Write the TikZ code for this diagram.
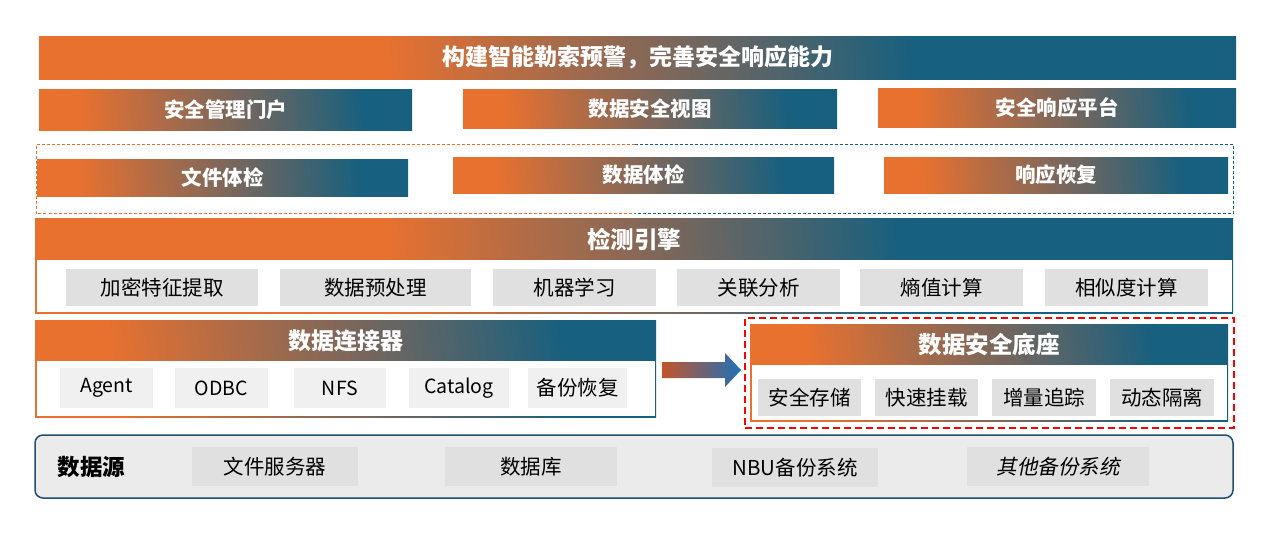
\documentclass[tikz,border=0pt]{standalone}
\usepackage{fontspec}
\setmainfont{Noto Sans CJK SC}
\newfontfamily\cjkit{Noto Sans CJK SC}[FakeSlant=0.2]
\usetikzlibrary{calc}
\definecolor{orng}{HTML}{E8712F}
\definecolor{blu}{HTML}{17607F}
\definecolor{midc}{HTML}{80675A}
\definecolor{gbox}{HTML}{E0E0E0}
\definecolor{gboxl}{HTML}{F0F0F0}
\definecolor{srcfill}{HTML}{EBEBEB}
\definecolor{srcline}{HTML}{1F4F6E}
\definecolor{arrL}{HTML}{C4552A}
\definecolor{arrR}{HTML}{1E70B8}
\pgfdeclarehorizontalshading{ogwide}{100bp}{color(0bp)=(orng); color(39bp)=(orng); color(51bp)=(midc); color(62bp)=(blu); color(100bp)=(blu)}
\pgfdeclarehorizontalshading{ognarrow}{100bp}{color(0bp)=(orng); color(29bp)=(orng); color(50bp)=(midc); color(70bp)=(blu); color(100bp)=(blu)}
\tikzset{
  sz/.style 2 args={minimum width=#1pt, minimum height=#2pt},
  hdr/.style={shade, shading=ognarrow, shading angle=5, text=white, inner sep=0pt, outer sep=0pt,
    font=\bfseries\fontsize{20.5}{24}\selectfont},
  wide/.style={hdr, shading=ogwide, shading angle=2},
  ttl/.style={text=white, inner sep=0pt, font=\bfseries\fontsize{23}{26}\selectfont},
  bodybox/.style={fill=white, inner sep=0pt, outer sep=0pt},
  gcell/.style={fill=gbox, inner sep=0pt, outer sep=0pt, text=black,
    font=\fontsize{20.5}{24}\selectfont},
  lcell/.style={gcell, fill=gboxl, font=\fontsize{19.5}{23}\selectfont},
  dashline/.style={line width=0.9pt, dash pattern=on 3pt off 2pt},
}
\begin{document}
\begin{tikzpicture}[x=1pt,y=-1pt]
\fill[white] (0,0) rectangle (1269,539);
\useasboundingbox (0,0) rectangle (1269,539);

% top banner
\node[wide, sz={1197}{43}, font=\bfseries\fontsize{23}{26}\selectfont] (goal) at (637.5,57.5) {构建智能勒索预警，完善安全响应能力};

% row 2
\node[hdr, sz={373}{41}] (portal) at (225.5,109.5) {安全管理门户};
\node[hdr, sz={374}{39}] (view) at (650,108.5) {数据安全视图};
\node[hdr, sz={358}{39}] (resp) at (1057,107.5) {安全响应平台};

% row 3 dashed group
\node[inner sep=0pt, outer sep=0pt, sz={1197}{69}] (chkgrp) at (634.5,178.5) {};
\draw[dashline, orng] (chkgrp.north) -- (chkgrp.north west) -- (chkgrp.south west) -- (chkgrp.south);
\draw[dashline, blu] (chkgrp.north) -- (chkgrp.north east) -- (chkgrp.south east) -- (chkgrp.south);
\node[hdr, sz={371}{37}] (fchk) at (222.5,177.5) {文件体检};
\node[hdr, sz={381}{36}] (dchk) at (643.5,175) {数据体检};
\node[hdr, sz={344}{36}] (rrec) at (1056,175) {响应恢复};

% detection engine
\node[wide, sz={1198}{95}, shading angle=4] (eng) at (634,265.5) {};
\node[bodybox, sz={1195}{51.5}] (engbody) at (634,285.75) {};
\node[ttl, font=\bfseries\fontsize{23.5}{26}\selectfont] (engt) at (634,239) {检测引擎};
\node[gcell, sz={192}{37}] (e1) at (162,287.5) {加密特征提取};
\node[gcell, sz={191}{37}] (e2) at (375.5,287.5) {数据预处理};
\node[gcell, sz={163}{37}] (e3) at (574.5,287.5) {机器学习};
\node[gcell, sz={163}{37}] (e4) at (758.5,287.5) {关联分析};
\node[gcell, sz={163}{37}] (e5) at (941.5,287.5) {熵值计算};
\node[gcell, sz={163}{37}] (e6) at (1126.5,287.5) {相似度计算};

% data connector
\node[hdr, sz={621}{97}, shading angle=8] (conn) at (345.5,368.5) {};
\node[bodybox, sz={618}{54.5}] (connbody) at (345.5,388.25) {};
\node[ttl] (connt) at (345.5,340.5) {数据连接器};
\node[lcell, sz={93}{40}] (c1) at (106.5,388) {Agent};
\node[lcell, sz={93}{40}] (c2) at (221.5,388) {ODBC};
\node[lcell, sz={92}{40}] (c3) at (340,388) {NFS};
\node[lcell, sz={100}{40}] (c4) at (459,388) {Catalog};
\node[lcell, sz={99}{40}, font=\fontsize{20.5}{24}\selectfont] (c5) at (577.5,388) {备份恢复};

% data security base
\node[draw=red, line width=1.6pt, dash pattern=on 7pt off 4pt, inner sep=0pt, outer sep=0pt, sz={489}{110}] (basegrp) at (989.5,373) {};
\node[hdr, sz={478}{97}, shading angle=10] (base) at (989,372.5) {};
\node[bodybox, sz={475}{54.5}] (basebody) at (989,392.25) {};
\node[ttl, font=\bfseries\fontsize{23.5}{26}\selectfont] (baset) at (989,344.5) {数据安全底座};
\node[gcell, sz={103}{37}] (b1) at (809.5,397.5) {安全存储};
\node[gcell, sz={103}{37}] (b2) at (926.5,397.5) {快速挂载};
\node[gcell, sz={104}{37}] (b3) at (1044,397.5) {增量追踪};
\node[gcell, sz={104}{37}] (b4) at (1162,397.5) {动态隔离};

% block arrow from connector to base
\coordinate (a0) at ($(conn.east)+(6,1.5)$);
\coordinate (a1) at ($(basegrp.west)+(-4,-3)$);
\path[left color=arrL, right color=arrR]
  ($(a0)+(0,-8)$) -- ($(a1)+(-16,-8)$) -- ($(a1)+(-16,-17)$) -- (a1)
  -- ($(a1)+(-16,17)$) -- ($(a1)+(-16,8)$) -- ($(a0)+(0,8)$) -- cycle;

% data sources
\node[draw=srcline, line width=1.5pt, fill=srcfill, rounded corners=8pt, inner sep=0pt, outer sep=0pt, sz={1198}{63}] (src) at (634,466.5) {};
\node[inner sep=0pt, text=black, font=\bfseries\fontsize{22.5}{26}\selectfont] (srct) at (91.5,467) {数据源};
\node[gcell, sz={166}{39}] (s1) at (275,466.5) {文件服务器};
\node[gcell, sz={172}{39}] (s2) at (531,466.5) {数据库};
\node[gcell, sz={166}{39}] (s3) at (795,467.5) {NBU备份系统};
\node[gcell, sz={182}{39}, font=\cjkit\fontsize{20.5}{24}\selectfont] (s4) at (1058,466.5) {其他备份系统};
\end{tikzpicture}
\end{document}
